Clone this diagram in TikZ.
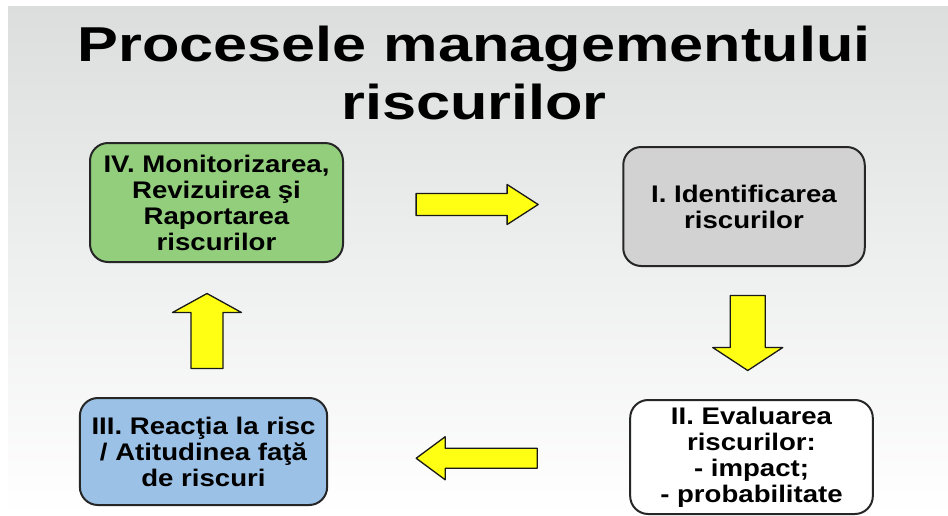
\documentclass[tikz,border=0pt]{standalone}
\usepackage{fontspec}
\setmainfont{Liberation Sans}
\usetikzlibrary{calc}
\definecolor{bgtop}{RGB}{220,222,222}
\definecolor{bgmid}{RGB}{236,237,237}
\definecolor{boxgreen}{RGB}{146,206,124}
\definecolor{boxgrey}{RGB}{210,210,210}
\definecolor{boxblue}{RGB}{155,194,230}
\definecolor{arrowyellow}{RGB}{255,255,20}
\tikzset{
  titletext/.style={font=\fontsize{49}{60}\selectfont\bfseries,xscale=1.25,anchor=base,inner sep=0pt},
  stepbox/.style={draw=black!85,line width=2pt,rounded corners=18pt,align=center,
    font=\fontsize{24}{26}\selectfont\bfseries,xscale=1.15,inner sep=0pt},
  blockarrow/.style={draw=black!90,line width=1.3pt,fill=arrowyellow},
}
% block arrow: #1 centre, #2 angle, #3 length, #4 shaft, #5 head width, #6 head length
\newcommand{\blockarr}[6]{%
  \draw[blockarrow,shift={#1},rotate=#2]
    ({-#3/2},{-#4/2}) -- ({#3/2-#6},{-#4/2}) -- ({#3/2-#6},{-#5/2}) -- ({#3/2},0)
    -- ({#3/2-#6},{#5/2}) -- ({#3/2-#6},{#4/2}) -- ({-#3/2},{#4/2}) -- cycle;}
\begin{document}
\begin{tikzpicture}[x=1pt,y=1pt,line join=round]
		\useasboundingbox (0,0) rectangle (948,-515);
		\shade[top color=bgtop,middle color=bgmid,bottom color=white] (8,-6) rectangle (948,-515);
		% title
		\node[titletext] (title1) at (474,-61) {Procesele managementului};
		\node[titletext] (title2) at (474,-119) {riscurilor};
		% the four steps
		\node[stepbox,fill=boxgreen,minimum width=220pt,minimum height=119pt] (mon) at (216.5,-202.5)
			{IV. Monitorizarea,\\Revizuirea şi\\Raportarea\\riscurilor};
		\node[stepbox,fill=boxgrey,minimum width=210pt,minimum height=119pt] (ident) at (744,-206.5)
			{I. Identificarea\\riscurilor};
		\node[stepbox,fill=white,minimum width=211pt,minimum height=114pt] (eval) at (751.5,-457)
			{II. Evaluarea\\riscurilor:\\- impact;\\- probabilitate};
		\node[stepbox,fill=boxblue,minimum width=215pt,minimum height=107pt] (react) at (203.5,-451.5)
			{III. Reacţia la risc\\/ Atitudinea faţă\\de riscuri};
		% block arrows between the steps
		\coordinate (a1) at ($(mon.east)!0.5!(ident.west)+(-6,0)$);
		\coordinate (a2) at ($(ident.south)!0.5!(eval.north)$);
		\coordinate (a3) at ($(eval.west)!0.5!(react.east)+(-2,-4)$);
		\coordinate (a4) at ($(react.north)!0.5!(mon.south)+(-3,-1)$);
		\blockarr{(a1)}{0}{122}{22}{40}{31}
		\blockarr{(a2)}{-90}{75}{35}{70}{23}
		\blockarr{(a3)}{180}{121}{20}{43}{29}
		\blockarr{(a4)}{90}{75}{32}{69}{19}
\end{tikzpicture}
\end{document}
